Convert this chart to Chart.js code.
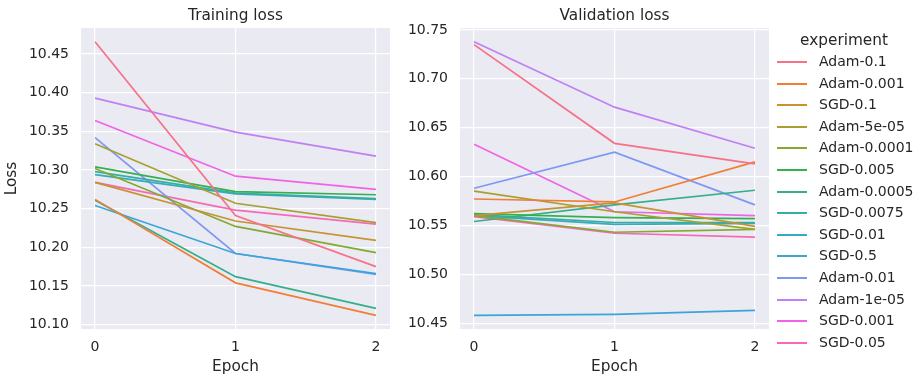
<!DOCTYPE html>
<html>
<head>
<meta charset="utf-8">
<script src="https://cdn.jsdelivr.net/npm/chart.js@4/dist/chart.umd.min.js"></script>
<style>
  html, body { margin: 0; padding: 0; background: #fff; }
  body { width: 918px; height: 376px; position: relative; overflow: hidden; font-family: 'DejaVu Sans', sans-serif; color: #262626; }
  .box { position: absolute; top: 0; height: 376px; }
  #box-train { left: 0; width: 392px; }
  #box-val { left: 392px; width: 380px; }
  .titulo-graf { position: absolute; top: 6px; width: 309px; text-align: center; font-size: 15.3px; line-height: 18px; }
  #titulo-train { left: 81px; }
  #titulo-val { left: 460px; }
  #legenda { position: absolute; left: 776px; top: 29px; width: 142px; font-size: 14px; }
  #legenda .titulo { text-align: center; margin-left: -6px; height: 22px; line-height: 22px; font-size: 15.3px; }
  #legenda .item { height: 21.6px; position: relative; }
  #legenda .amostra { position: absolute; left: 1px; top: 10px; width: 30px; height: 2px; }
  #legenda .nome { position: absolute; left: 43px; top: 0; line-height: 21.6px; }
</style>
</head>
<body>
<div class="box" id="box-train"><canvas id="grafico-train"></canvas></div>
<div class="box" id="box-val"><canvas id="grafico-val"></canvas></div>
<div class="titulo-graf" id="titulo-train">Training loss</div>
<div class="titulo-graf" id="titulo-val">Validation loss</div>
<div id="legenda"></div>
<script>
// ── dados ──────────────────────────────────────────
const epocas = [0, 1, 2];
const experimentos = [
  'Adam-0.1', 'Adam-0.001', 'SGD-0.1', 'Adam-5e-05', 'Adam-0.0001', 'SGD-0.005', 'Adam-0.0005',
  'SGD-0.0075', 'SGD-0.01', 'SGD-0.5', 'Adam-0.01', 'Adam-1e-05', 'SGD-0.001', 'SGD-0.05',
];
const cores = [
  '#f77189', '#f07e37', '#c79332', '#a6a031', '#82aa31', '#34b04f', '#34ae8b',
  '#36ada4', '#37aabb', '#3ba5da', '#7d97f4', '#c07ff4', '#f063e8', '#f669b7',
];

// perda de treino por experimento (epoca 0,1,2)
const treinoAdam01    = [10.466, 10.241, 10.175];
const treinoAdam0001  = [10.262, 10.154, 10.112];
const treinoSGD01     = [10.284, 10.234, 10.209];
const treinoAdam5e05  = [10.334, 10.257, 10.232];
const treinoAdam00001 = [10.302, 10.227, 10.193];
const treinoSGD0005   = [10.304, 10.272, 10.268];
const treinoAdam0005  = [10.261, 10.162, 10.121];
const treinoSGD00075  = [10.298, 10.270, 10.263];
const treinoSGD001    = [10.294, 10.269, 10.262];
const treinoSGD05     = [10.254, 10.192, 10.166];
const treinoAdam001   = [10.342, 10.192, 10.165];
const treinoAdam1e05  = [10.393, 10.349, 10.318];
const treinoSGD0001   = [10.364, 10.292, 10.275];
const treinoSGD005    = [10.284, 10.248, 10.230];

// perda de validação por experimento
const valAdam01    = [10.735, 10.634, 10.613];
const valAdam0001  = [10.577, 10.574, 10.615];
const valSGD01     = [10.560, 10.573, 10.549];
const valAdam5e05  = [10.585, 10.564, 10.546];
const valAdam00001 = [10.560, 10.543, 10.546];
const valSGD0005   = [10.562, 10.558, 10.557];
const valAdam0005  = [10.554, 10.571, 10.586];
const valSGD00075  = [10.561, 10.553, 10.553];
const valSGD001    = [10.560, 10.551, 10.552];
const valSGD05     = [10.458, 10.459, 10.463];
const valAdam001   = [10.588, 10.625, 10.571];
const valAdam1e05  = [10.738, 10.671, 10.629];
const valSGD0001   = [10.633, 10.564, 10.560];
const valSGD005    = [10.559, 10.542, 10.538];

const treino = [treinoAdam01, treinoAdam0001, treinoSGD01, treinoAdam5e05, treinoAdam00001, treinoSGD0005, treinoAdam0005,
  treinoSGD00075, treinoSGD001, treinoSGD05, treinoAdam001, treinoAdam1e05, treinoSGD0001, treinoSGD005];
const validacao = [valAdam01, valAdam0001, valSGD01, valAdam5e05, valAdam00001, valSGD0005, valAdam0005,
  valSGD00075, valSGD001, valSGD05, valAdam001, valAdam1e05, valSGD0001, valSGD005];

const ticksTreino = [10.10, 10.15, 10.20, 10.25, 10.30, 10.35, 10.40, 10.45];
const ticksVal    = [10.45, 10.50, 10.55, 10.60, 10.65, 10.70, 10.75];

const TEXTO = '#262626';
const FONTE = { family: "'DejaVu Sans', sans-serif", size: 14 };
const FONTE_TIT = { family: "'DejaVu Sans', sans-serif", size: 15.3 };

// fundo cinza-azulado do seaborn
const fundoPlugin = {
  id: 'fundo',
  beforeDraw(chart) {
    const { ctx, chartArea: a } = chart;
    ctx.save();
    ctx.fillStyle = '#eaeaf2';
    ctx.fillRect(a.left, a.top, a.right - a.left, a.bottom - a.top);
    ctx.restore();
  },
};

function extensao(series) {
  const todos = series.flat();
  const min = Math.min(...todos), max = Math.max(...todos);
  const m = (max - min) * 0.05;
  return { min: min - m, max: max + m };
}

function criarGrafico(id, series, ticksY, larguraY, tituloY, dir) {
  const ext = extensao(series);
  return new Chart(document.getElementById(id).getContext('2d'), {
    type: 'line',
    data: {
      datasets: series.map((s, i) => ({
        label: experimentos[i],
        data: s.map((v, j) => ({ x: epocas[j], y: v })),
        borderColor: cores[i],
        borderWidth: 1.7,
        pointRadius: 0,
        tension: 0,
        fill: false,
      })),
    },
    options: {
      responsive: true, maintainAspectRatio: false, animation: false,
      layout: { padding: { top: 28, left: 0, right: dir, bottom: 0 } },
      plugins: {
        legend: { display: false },
        tooltip: { enabled: false },
        title: { display: false },
      },
      scales: {
        x: {
          type: 'linear', min: -0.1, max: 2.1,
          afterBuildTicks: s => { s.ticks = epocas.map(v => ({ value: v })); },
          afterFit: s => { s.height = 47; },
          ticks: { color: TEXTO, font: FONTE, padding: 10, callback: v => String(v) },
          grid: { color: '#ffffff', lineWidth: 1.2, drawTicks: false },
          border: { display: false },
          title: { display: true, text: 'Epoch', color: TEXTO, font: FONTE_TIT, padding: { top: 0, bottom: 0.1 } },
        },
        y: {
          type: 'linear', min: ext.min, max: ext.max,
          afterBuildTicks: s => { s.ticks = ticksY.map(v => ({ value: v })); },
          afterFit: s => { s.width = larguraY; },
          ticks: { color: TEXTO, font: FONTE, padding: 12, callback: v => Number(v).toFixed(2) },
          grid: { color: '#ffffff', lineWidth: 1.2, drawTicks: false },
          border: { display: false },
          title: { display: !!tituloY, text: tituloY, color: TEXTO, font: FONTE_TIT, padding: { top: 3.3, bottom: 0 } },
        },
      },
    },
    plugins: [fundoPlugin],
  });
}

criarGrafico('grafico-train', treino, ticksTreino, 81, 'Loss', 2);
criarGrafico('grafico-val', validacao, ticksVal, 68, '', 3);

// legenda em HTML
const legenda = document.getElementById('legenda');
legenda.innerHTML = '<div class="titulo">experiment</div>' + experimentos.map((nome, i) =>
  `<div class="item"><span class="amostra" style="background:${cores[i]}"></span><span class="nome">${nome}</span></div>`
).join('');
</script>
</body>
</html>
